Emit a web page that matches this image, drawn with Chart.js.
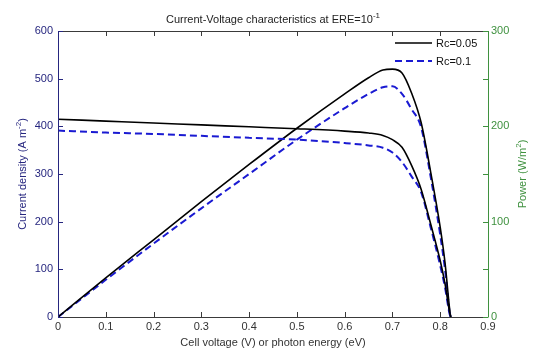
<!DOCTYPE html>
<html>
<head>
<meta charset="utf-8">
<script src="https://cdn.jsdelivr.net/npm/chart.js@4.4.0/dist/chart.umd.min.js"></script>
<style>
    html, body { margin: 0; padding: 0; background: #fff; }
</style>
</head>
<body>
<canvas id="iv" width="538" height="354"></canvas>
<script>
// values
const VOLTAGE = [0, 0.1, 0.2, 0.3, 0.4, 0.5, 0.6, 0.65, 0.68, 0.7, 0.72, 0.74, 0.76, 0.78, 0.8, 0.81, 0.82, 0.822]
const J_RC005 = [415, 411, 407, 403, 399, 395, 390, 386, 381, 372, 356, 318, 268, 195, 118, 70, 8, 0]
const J_RC01 = [391, 387, 384, 380, 376, 372, 365, 360, 355, 345, 325, 295, 262, 188, 108, 62, 5, 0]
const P_RC005 = [0, 41, 81, 121, 160, 198, 234, 251, 259, 260, 256, 235, 204, 152, 94, 57, 7, 0]
const P_RC01 = [0, 39, 77, 114, 150, 186, 219, 234, 241, 242, 234, 218, 199, 147, 86, 50, 4, 0]
const X_TICKS = [0, 0.1, 0.2, 0.3, 0.4, 0.5, 0.6, 0.7, 0.8, 0.9]
const SERIES = ['Rc=0.05', 'Rc=0.1']

const FONT = '11px "Liberation Sans", Arial, sans-serif'
const SUP_FONT = '8px "Liberation Sans", Arial, sans-serif'
const NAVY = '#26267f'
const GREEN = '#3f913f'
const BLACK = '#000000'
const BLUE = '#1a1ad2'

function pts(ys) {
    return VOLTAGE.map((v, i) => ({ x: v, y: ys[i] }))
}

// text with superscript pieces, drawn on the current baseline
function richText(ctx, parts, x, y, color) {
    let total = 0
    parts.forEach(p => {
        ctx.font = p[1] ? SUP_FONT : FONT
        total += ctx.measureText(p[0]).width
    })
    let cx = x - total / 2
    ctx.fillStyle = color
    ctx.textAlign = 'left'
    ctx.textBaseline = 'alphabetic'
    parts.forEach(p => {
        ctx.font = p[1] ? SUP_FONT : FONT
        ctx.fillText(p[0], cx, p[1] ? y - 5 : y)
        cx += ctx.measureText(p[0]).width
    })
}

const decor = {
    id: 'decor',
    afterDraw(chart) {
        const ctx = chart.ctx
        const a = chart.chartArea
        const sx = chart.scales.x, sy = chart.scales.y, sp = chart.scales.y1
        ctx.save()
        ctx.lineWidth = 1

        // box
        ctx.strokeStyle = '#3a3a3a'
        ctx.beginPath()
        ctx.moveTo(a.left, Math.round(a.bottom) + 0.5); ctx.lineTo(a.right, Math.round(a.bottom) + 0.5)
        ctx.moveTo(a.left, Math.round(a.top) + 0.5); ctx.lineTo(a.right, Math.round(a.top) + 0.5)
        sx.ticks.forEach(t => {
            const px = Math.round(sx.getPixelForValue(t.value)) + 0.5
            ctx.moveTo(px, a.bottom); ctx.lineTo(px, a.bottom - 5)
            ctx.moveTo(px, a.top); ctx.lineTo(px, a.top + 5)
        })
        ctx.stroke()

        ctx.strokeStyle = NAVY
        ctx.beginPath()
        ctx.moveTo(Math.round(a.left) + 0.5, a.top); ctx.lineTo(Math.round(a.left) + 0.5, a.bottom + 0.5)
        sy.ticks.forEach(t => {
            const py = Math.round(sy.getPixelForValue(t.value)) + 0.5
            ctx.moveTo(a.left, py); ctx.lineTo(a.left + 5, py)
        })
        ctx.stroke()

        ctx.strokeStyle = GREEN
        ctx.beginPath()
        ctx.moveTo(Math.round(a.right) + 0.5, a.top); ctx.lineTo(Math.round(a.right) + 0.5, a.bottom + 0.5)
        sp.ticks.forEach(t => {
            const py = Math.round(sp.getPixelForValue(t.value)) + 0.5
            ctx.moveTo(a.right, py); ctx.lineTo(a.right - 5, py)
        })
        ctx.stroke()

        // titles
        const cx = (a.left + a.right) / 2
        richText(ctx, [['Current-Voltage characteristics at ERE=10', false], ['-1', true]], cx, 23, '#222')
        richText(ctx, [['Cell voltage (V) or photon energy (eV)', false]], cx, 346, '#333')

        ctx.save()
        ctx.translate(26, (a.top + a.bottom) / 2)
        ctx.rotate(-Math.PI / 2)
        richText(ctx, [['Current density (A m', false], ['-2', true], [')', false]], 0, 0, NAVY)
        ctx.restore()

        ctx.save()
        ctx.translate(526, (a.top + a.bottom) / 2)
        ctx.rotate(-Math.PI / 2)
        richText(ctx, [['Power (W/m', false], ['2', true], [')', false]], 0, 0, GREEN)
        ctx.restore()

        // legend
        const legend = [
            { label: SERIES[0], color: BLACK, dash: [], width: 1.6 },
            { label: SERIES[1], color: BLUE, dash: [7, 4], width: 2 }
        ]
        legend.forEach((l, i) => {
            const y = 43 + i * 18
            ctx.strokeStyle = l.color
            ctx.lineWidth = l.width
            ctx.setLineDash(l.dash)
            ctx.beginPath()
            ctx.moveTo(395, y); ctx.lineTo(432, y)
            ctx.stroke()
            ctx.setLineDash([])
            ctx.font = FONT
            ctx.fillStyle = '#111'
            ctx.textAlign = 'left'
            ctx.textBaseline = 'middle'
            ctx.fillText(l.label, 436, y + 1)
        })
        ctx.restore()
    }
}

const line = (data, color, dash, width, axis) => ({
    data: pts(data),
    borderColor: color,
    borderDash: dash,
    borderWidth: width,
    pointRadius: 0,
    cubicInterpolationMode: 'monotone',
    fill: false,
    yAxisID: axis
})

const NO_GRID = { display: false, drawTicks: false, tickLength: 0 }

new Chart(document.getElementById('iv'), {
    type: 'line',
    data: {
        datasets: [
            line(J_RC005, BLACK, [], 1.6, 'y'),
            line(J_RC01, BLUE, [7, 4], 2, 'y'),
            line(P_RC005, BLACK, [], 1.6, 'y1'),
            line(P_RC01, BLUE, [7, 4], 2, 'y1')
        ]
    },
    options: {
        responsive: false,
        devicePixelRatio: 1,
        animation: false,
        layout: { padding: { top: 31, left: 0, right: 0, bottom: 0 } },
        plugins: {
            legend: { display: false },
            title: { display: false },
            tooltip: { enabled: false }
        },
        scales: {
            x: {
                type: 'linear',
                min: 0,
                max: 0.9,
                afterBuildTicks: s => { s.ticks = X_TICKS.map(v => ({ value: v })) },
                afterFit: s => { s.height = 37 },
                grid: NO_GRID,
                border: { display: false },
                ticks: {
                    padding: 3,
                    color: '#333',
                    font: { family: '"Liberation Sans", Arial, sans-serif', size: 11 },
                    maxRotation: 0,
                    callback: v => v === 0 ? '0' : (Math.round(v * 10) / 10).toFixed(1)
                }
            },
            y: {
                position: 'left',
                min: 0,
                max: 600,
                afterFit: s => { s.width = 58 },
                grid: NO_GRID,
                border: { display: false },
                ticks: {
                    stepSize: 100,
                    padding: 5,
                    color: NAVY,
                    font: { family: '"Liberation Sans", Arial, sans-serif', size: 11 }
                }
            },
            y1: {
                position: 'right',
                min: 0,
                max: 300,
                afterFit: s => { s.width = 50 },
                grid: NO_GRID,
                border: { display: false },
                ticks: {
                    stepSize: 50,
                    padding: 3,
                    color: GREEN,
                    font: { family: '"Liberation Sans", Arial, sans-serif', size: 11 },
                    callback: v => v % 100 === 0 ? String(v) : ''
                }
            }
        }
    },
    plugins: [decor]
})
</script>
</body>
</html>
